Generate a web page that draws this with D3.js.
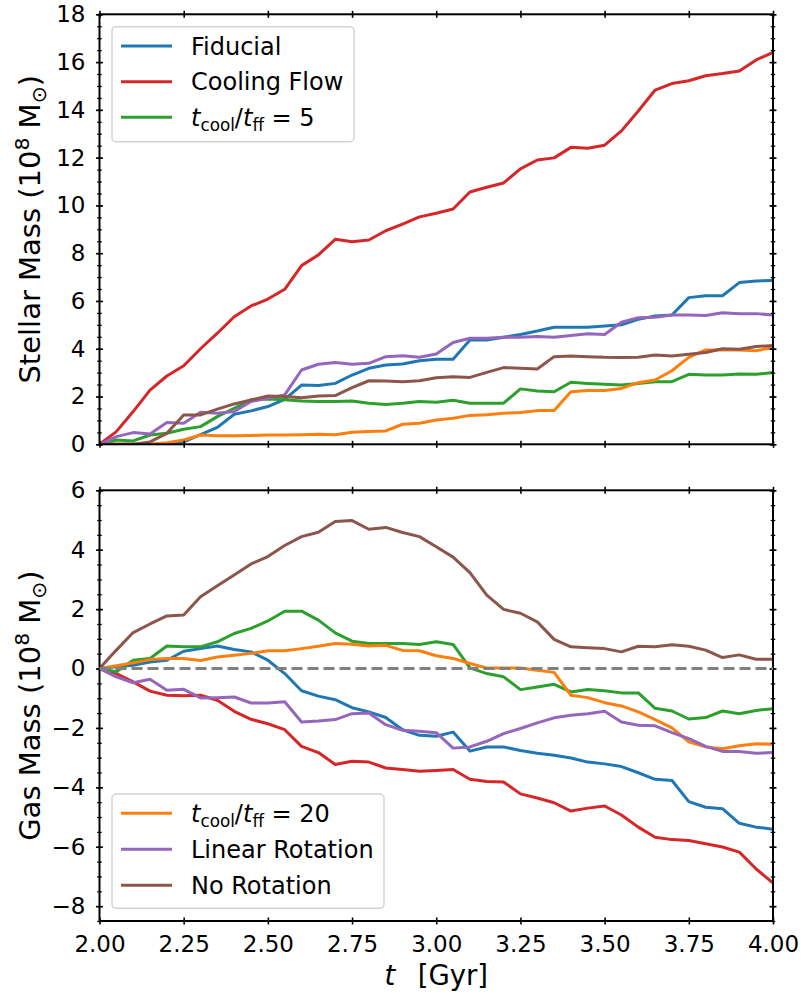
<!DOCTYPE html>
<html>
<head>
<meta charset="utf-8">
<script src="https://cdn.jsdelivr.net/npm/d3@7"></script>
<style>
  body { margin: 0; background: #fff; }
  svg text { font-family: "DejaVu Sans", sans-serif; fill: #000; }
</style>
</head>
<body>
<div id="chart"></div>
<script>
// time axis (Gyr)
var times = [2.00, 2.05, 2.10, 2.15, 2.20, 2.25, 2.30, 2.35, 2.40, 2.45, 2.50,
             2.55, 2.60, 2.65, 2.70, 2.75, 2.80, 2.85, 2.90, 2.95, 3.00,
             3.05, 3.10, 3.15, 3.20, 3.25, 3.30, 3.35, 3.40, 3.45, 3.50,
             3.55, 3.60, 3.65, 3.70, 3.75, 3.80, 3.85, 3.90, 3.95, 4.00];

// stellar mass (1e8 Msun)
var fiducialStar = [0, 0, 0, 0, 0.02, 0.1, 0.4, 0.71, 1.26, 1.4, 1.58, 1.88, 2.48, 2.46, 2.55, 2.9, 3.18, 3.32, 3.36, 3.5, 3.56,
                    3.56, 4.37, 4.37, 4.48, 4.6, 4.74, 4.9, 4.9, 4.9, 4.95, 5.0, 5.23, 5.37, 5.41, 6.14, 6.22, 6.22, 6.77, 6.84, 6.86];
var coolFlowStar = [0, 0.53, 1.37, 2.27, 2.86, 3.29, 4.0, 4.65, 5.34, 5.79, 6.08, 6.49, 7.48, 7.93, 8.58, 8.48, 8.55, 8.94, 9.22, 9.52, 9.67,
                    9.85, 10.56, 10.76, 10.94, 11.53, 11.9, 11.99, 12.43, 12.39, 12.52, 13.12, 13.95, 14.83, 15.1, 15.22, 15.43, 15.52, 15.63, 16.09, 16.41];
var tc5Star = [0, 0.18, 0.14, 0.39, 0.46, 0.63, 0.74, 1.16, 1.51, 1.86, 1.9, 1.86, 1.81, 1.79, 1.79, 1.81, 1.72, 1.67, 1.72, 1.79, 1.76,
               1.84, 1.72, 1.72, 1.72, 2.32, 2.23, 2.2, 2.6, 2.55, 2.51, 2.48, 2.55, 2.62, 2.62, 2.93, 2.9, 2.9, 2.94, 2.93, 3.01];
var tc20Star = [0, 0, 0, 0, 0.07, 0.18, 0.39, 0.36, 0.36, 0.37, 0.39, 0.39, 0.4, 0.42, 0.4, 0.5, 0.54, 0.56, 0.84, 0.88, 1.02,
                1.09, 1.21, 1.24, 1.3, 1.33, 1.41, 1.41, 2.2, 2.25, 2.25, 2.34, 2.58, 2.69, 3.08, 3.64, 3.95, 3.95, 3.95, 3.92, 4.05];
var linRotStar = [0, 0.32, 0.49, 0.43, 0.91, 0.88, 1.34, 1.3, 1.37, 1.79, 1.93, 2.07, 3.11, 3.35, 3.42, 3.35, 3.39, 3.67, 3.71, 3.64, 3.78,
                  4.26, 4.44, 4.44, 4.48, 4.48, 4.51, 4.48, 4.55, 4.63, 4.6, 5.11, 5.3, 5.32, 5.41, 5.41, 5.39, 5.51, 5.47, 5.47, 5.41];
var noRotStar = [0, 0, 0, 0.1, 0.46, 1.23, 1.23, 1.47, 1.69, 1.86, 2.02, 2.0, 1.95, 2.02, 2.04, 2.37, 2.66, 2.65, 2.62, 2.66, 2.79,
                 2.83, 2.8, 3.01, 3.21, 3.18, 3.15, 3.67, 3.7, 3.67, 3.64, 3.63, 3.64, 3.74, 3.7, 3.77, 3.84, 4.0, 3.98, 4.09, 4.14];

// gas mass change (1e8 Msun)
var fiducialGas = [0, 0.06, 0.11, 0.22, 0.28, 0.58, 0.67, 0.76, 0.64, 0.56, 0.28, -0.17, -0.75, -0.93, -1.05, -1.32, -1.46, -1.65, -2.06, -2.25, -2.28,
                   -2.14, -2.78, -2.64, -2.64, -2.76, -2.85, -2.92, -3.01, -3.15, -3.21, -3.3, -3.51, -3.73, -3.77, -4.48, -4.67, -4.72, -5.21, -5.34, -5.41];
var coolFlowGas = [0, -0.17, -0.45, -0.76, -0.9, -0.92, -0.9, -1.07, -1.44, -1.71, -1.86, -2.06, -2.62, -2.83, -3.23, -3.12, -3.15, -3.35, -3.4, -3.46, -3.43,
                   -3.4, -3.73, -3.8, -3.82, -4.22, -4.36, -4.52, -4.8, -4.7, -4.63, -4.93, -5.34, -5.68, -5.76, -5.79, -5.9, -6.01, -6.18, -6.75, -7.22];
var tc5Gas = [0, -0.11, 0.28, 0.34, 0.76, 0.73, 0.73, 0.9, 1.18, 1.35, 1.6, 1.93, 1.93, 1.63, 1.2, 0.92, 0.84, 0.84, 0.84, 0.81, 0.9,
              0.81, 0.02, -0.17, -0.28, -0.71, -0.62, -0.53, -0.79, -0.71, -0.75, -0.82, -0.82, -1.34, -1.43, -1.7, -1.65, -1.43, -1.52, -1.41, -1.35];
var tc20Gas = [0, 0.09, 0.19, 0.3, 0.34, 0.34, 0.27, 0.39, 0.45, 0.51, 0.6, 0.6, 0.67, 0.75, 0.84, 0.82, 0.76, 0.78, 0.61, 0.6, 0.43,
               0.34, 0.17, 0.02, 0.02, 0.02, -0.06, -0.13, -0.9, -0.98, -1.15, -1.26, -1.46, -1.72, -2.0, -2.47, -2.64, -2.7, -2.6, -2.53, -2.55];
var linRotGas = [0, -0.28, -0.48, -0.36, -0.73, -0.7, -0.99, -0.98, -0.96, -1.16, -1.16, -1.12, -1.8, -1.77, -1.72, -1.52, -1.5, -1.89, -2.08, -2.11, -2.16,
                 -2.68, -2.64, -2.45, -2.19, -2.02, -1.83, -1.66, -1.57, -1.52, -1.44, -1.8, -1.91, -1.93, -2.16, -2.36, -2.62, -2.79, -2.79, -2.85, -2.83];
var noRotGas = [0, 0.62, 1.21, 1.5, 1.77, 1.8, 2.42, 2.79, 3.15, 3.52, 3.77, 4.14, 4.44, 4.59, 4.95, 4.98, 4.69, 4.75, 4.58, 4.44, 4.1,
                3.75, 3.23, 2.47, 1.99, 1.86, 1.57, 0.98, 0.73, 0.7, 0.67, 0.56, 0.75, 0.73, 0.8, 0.75, 0.62, 0.37, 0.46, 0.31, 0.31];

var names = ["Fiducial", "Cooling Flow", "tc5", "tc20", "Linear Rotation", "No Rotation"];
var colors = ["#1f77b4", "#d62728", "#2ca02c", "#ff7f0e", "#9467bd", "#8c564b"];
var starSeries = [fiducialStar, coolFlowStar, tc5Star, tc20Star, linRotStar, noRotStar];
var gasSeries = [fiducialGas, coolFlowGas, tc5Gas, tc20Gas, linRotGas, noRotGas];

var xTicks = [2.00, 2.25, 2.50, 2.75, 3.00, 3.25, 3.50, 3.75, 4.00];
var starTicks = [0, 2, 4, 6, 8, 10, 12, 14, 16, 18];
var gasTicks = [-8, -6, -4, -2, 0, 2, 4, 6];

var W = 806, H = 998;
var left = 99.5, right = 773;
var svg = d3.select("#chart").append("svg")
    .attr("width", W).attr("height", H);

var x = d3.scaleLinear().domain([2, 4]).range([left, right]);
var yStar = d3.scaleLinear().domain([0, 18]).range([444.3, 14.3]);
var yGas = d3.scaleLinear().domain([-8.5, 6]).range([921, 490.3]);

function minorTicks(lo, hi) {
    var out = [];
    for (var v = lo; v <= hi + 1e-9; v += 0.5) out.push(+v.toFixed(2));
    return out;
}

function inout(g, horiz, len) {
    g.selectAll(".tick line")
        .attr(horiz ? "y1" : "x1", len / 2)
        .attr(horiz ? "y2" : "x2", -len / 2)
        .attr("stroke", "#000")
        .attr("stroke-width", 1.6);
}

function drawPanel(y, yMajor, series, showX, cid) {
    var top = y.range()[1], bottom = y.range()[0];

    svg.append("clipPath").attr("id", cid)
        .append("rect").attr("x", left).attr("y", top)
        .attr("width", right - left).attr("height", bottom - top);

    var line = d3.line()
        .x(function (d, i) { return x(times[i]); })
        .y(function (d) { return y(d); });

    var plot = svg.append("g").attr("clip-path", "url(#" + cid + ")");
    series.forEach(function (s, k) {
        plot.append("path")
            .attr("d", line(s))
            .attr("fill", "none")
            .attr("stroke", colors[k])
            .attr("stroke-width", 3)
            .attr("stroke-linejoin", "round");
    });

    var yd = y.domain();
    var yMinor = minorTicks(Math.ceil(yd[0] * 2) / 2, yd[1]);

    // left
    var gl = svg.append("g").attr("transform", "translate(" + left + ",0)")
        .call(d3.axisLeft(y).tickValues(yMajor).tickFormat(d3.format("d"))
            .tickSize(7).tickPadding(7).tickSizeOuter(0));
    inout(gl, false, 7);
    gl.selectAll("text").style("font-size", "23px").style("font-family", "DejaVu Sans");
    gl.select(".domain").remove();
    var glm = svg.append("g").attr("transform", "translate(" + left + ",0)")
        .call(d3.axisLeft(y).tickValues(yMinor).tickFormat("").tickSize(4).tickSizeOuter(0));
    inout(glm, false, 4.5);
    glm.selectAll(".tick line").attr("stroke-width", 1.3);
    glm.select(".domain").remove();

    // right
    var gr = svg.append("g").attr("transform", "translate(" + right + ",0)")
        .call(d3.axisRight(y).tickValues(yMajor).tickFormat("").tickSize(7).tickSizeOuter(0));
    inout(gr, false, 7);
    gr.select(".domain").remove();
    var grm = svg.append("g").attr("transform", "translate(" + right + ",0)")
        .call(d3.axisRight(y).tickValues(yMinor).tickFormat("").tickSize(4).tickSizeOuter(0));
    inout(grm, false, 4.5);
    grm.selectAll(".tick line").attr("stroke-width", 1.3);
    grm.select(".domain").remove();

    // top
    var gt = svg.append("g").attr("transform", "translate(0," + top + ")")
        .call(d3.axisTop(x).tickValues(xTicks).tickFormat("").tickSize(7).tickSizeOuter(0));
    inout(gt, true, 7);
    gt.select(".domain").remove();

    // bottom
    var gb = svg.append("g").attr("transform", "translate(0," + bottom + ")")
        .call(d3.axisBottom(x).tickValues(xTicks)
            .tickFormat(showX ? d3.format(".2f") : "")
            .tickSize(7).tickPadding(7.5).tickSizeOuter(0));
    inout(gb, true, 7);
    gb.selectAll("text").style("font-size", "23px").style("font-family", "DejaVu Sans");
    gb.select(".domain").remove();

    // frame
    svg.append("rect")
        .attr("x", left).attr("y", top)
        .attr("width", right - left).attr("height", bottom - top)
        .attr("fill", "none").attr("stroke", "#000").attr("stroke-width", 2);
}

drawPanel(yStar, starTicks, starSeries, false, "clipTop");
drawPanel(yGas, gasTicks, gasSeries, true, "clipBot");

// zero reference line
svg.append("line")
    .attr("x1", x(2)).attr("x2", x(4))
    .attr("y1", yGas(0)).attr("y2", yGas(0))
    .attr("stroke", "#808080").attr("stroke-width", 3)
    .attr("stroke-dasharray", "11,5");

// axis labels
function massLabel(cy, word) {
    var t = svg.append("text")
        .attr("transform", "translate(40," + cy + ") rotate(-90)")
        .attr("text-anchor", "middle")
        .style("font-size", "29px");
    t.append("tspan").text(word + " Mass (10");
    t.append("tspan").attr("dy", -11).style("font-size", "20.3px").text("8");
    t.append("tspan").attr("dy", 11).text(" M");
    t.append("tspan").attr("dy", 6).style("font-size", "20.3px").text("\u2299");
    t.append("tspan").attr("dy", -6).text(")");
}
massLabel(229.3, "Stellar");
massLabel(705.6, "Gas");

var xl = svg.append("text")
    .attr("x", (left + right) / 2).attr("y", 985)
    .attr("text-anchor", "middle")
    .style("font-size", "27.5px");
xl.append("tspan").style("font-style", "italic").text("t");
xl.append("tspan").text("\u2002 [Gyr]");

// legends
function tcoolText(t, val) {
    t.append("tspan").style("font-style", "italic").text("t");
    t.append("tspan").attr("dy", 5).style("font-size", "16.8px").text("cool");
    t.append("tspan").attr("dy", -5).text("/");
    t.append("tspan").style("font-style", "italic").text("t");
    t.append("tspan").attr("dy", 5).style("font-size", "16.8px").text("ff");
    t.append("tspan").attr("dy", -5).text(" = " + val);
}

function legend(bx, by, bw, bh, idx, rowY) {
    svg.append("rect")
        .attr("x", bx).attr("y", by).attr("width", bw).attr("height", bh)
        .attr("rx", 4).attr("ry", 4)
        .attr("fill", "#fff").attr("fill-opacity", 0.8)
        .attr("stroke", "#d4d4d4").attr("stroke-width", 1.5);
    idx.forEach(function (k, j) {
        svg.append("line")
            .attr("x1", 121).attr("x2", 172)
            .attr("y1", rowY[j]).attr("y2", rowY[j])
            .attr("stroke", colors[k]).attr("stroke-width", 3);
        var t = svg.append("text")
            .attr("x", 191).attr("y", rowY[j] + 8.7)
            .style("font-size", "24px");
        if (names[k] === "tc5") tcoolText(t, "5");
        else if (names[k] === "tc20") tcoolText(t, "20");
        else t.text(names[k]);
    });
}
legend(112, 26.7, 242, 115, [0, 1, 2], [46, 81.7, 117.3]);
legend(112, 794, 272, 114.3, [3, 4, 5], [813.3, 849.3, 885.3]);
</script>
</body>
</html>
